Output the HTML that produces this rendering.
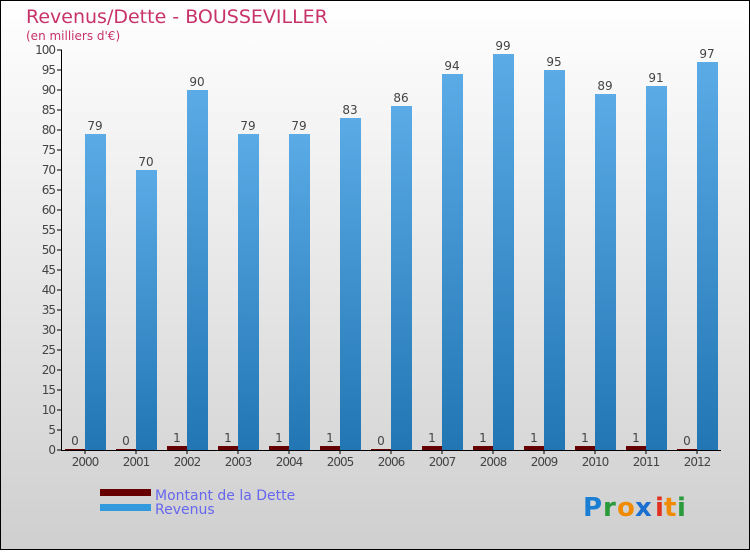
<!DOCTYPE html>
<html><head><meta charset="utf-8"><style>
body{margin:0}
#c{width:750px;height:550px;position:relative;font-family:"DejaVu Sans","Liberation Sans",sans-serif;}
svg text{font-family:"DejaVu Sans","Liberation Sans",sans-serif}
</style></head><body>
<div id="c">
<svg id="s" width="750" height="550" xmlns="http://www.w3.org/2000/svg">
<defs>
<linearGradient id="bg" x1="0" y1="0" x2="0" y2="1"><stop offset="0" stop-color="#ffffff"/><stop offset="1" stop-color="#cfcfcf"/></linearGradient>
<linearGradient id="blue" x1="0" y1="0" x2="0" y2="1"><stop offset="0" stop-color="#5aabe6"/><stop offset="1" stop-color="#2176b3"/></linearGradient>
</defs>
<rect x="0.5" y="0.5" width="749" height="549" fill="url(#bg)" stroke="#000"/>
<text x="26" y="23" font-size="19" fill="#c8336a">Revenus/Dette - BOUSSEVILLER</text>
<text x="26" y="40" font-size="12" fill="#c8336a">(en milliers d'€)</text>
<g id="plot"></g>
<rect x="100" y="489" width="51" height="7" fill="#660000"/>
<text x="155" y="500" font-size="14" fill="#6666ee">Montant de la Dette</text>
<rect x="100" y="504" width="51" height="7" fill="#3399dd"/>
<text x="155" y="514" font-size="14" fill="#6666ee">Revenus</text>
<g font-size="26" font-weight="bold">
<text x="583" y="516" fill="#1a7fd4">P</text><text x="603" y="516" fill="#2a9a3a">r</text><text x="617" y="516" fill="#f08a00">o</text><text x="635" y="516" fill="#1a6fd0">x</text><text x="655" y="516" fill="#e03020">i</text><text x="664" y="516" fill="#f08a00">t</text><text x="677" y="516" fill="#2a9a3a">i</text>
</g>
</svg>
</div>
<script>
const years=["2000","2001","2002","2003","2004","2005","2006","2007","2008","2009","2010","2011","2012"];
const revenus=[79,70,90,79,79,83,86,94,99,95,89,91,97];
const dette=[0,0,1,1,1,1,0,1,1,1,1,1,0];
const yTicks=[0,5,10,15,20,25,30,35,40,45,50,55,60,65,70,75,80,85,90,95,100];
const NS="http://www.w3.org/2000/svg";
const g=document.getElementById('plot');
const y0=450,yMax=100,pxPer=4;
function ys(v){return y0-v*pxPer;}
function xc(i){return 85+i*51;}
function mk(t,a){const e=document.createElementNS(NS,t);for(const k in a)e.setAttribute(k,a[k]);g.appendChild(e);return e;}
yTicks.forEach(v=>{
 const l=mk('line',{x1:57,x2:62,y1:ys(v),y2:ys(v),stroke:'#000'});
 
 
 const t=mk('text',{x:55,y:ys(v)+4,'font-size':12,'text-anchor':'end',fill:'#444','letter-spacing':'-1'});
 t.textContent=v;
 
 
});
years.forEach((yr,i)=>{
 const c=xc(i);
 const hd=Math.max(dette[i]*pxPer,1);
 const r=mk('rect',{x:c-20,y:y0-hd,width:20,height:hd,fill:'#660000'});
 
 
 const td=mk('text',{x:c-10,y:y0-hd-4,'font-size':12,'text-anchor':'middle',fill:'#444'});
 td.textContent=dette[i];
 
 
 const b=mk('rect',{x:c,y:ys(revenus[i]),width:21,height:revenus[i]*pxPer,fill:'url(#blue)'});
 
 
 const tr=mk('text',{x:c+10,y:ys(revenus[i])-4,'font-size':12,'text-anchor':'middle',fill:'#444'});
 tr.textContent=revenus[i];
 
 
 const tk=mk('line',{x1:c,x2:c,y1:y0,y2:y0+4,stroke:'#000'});
 
 
 const tx=mk('text',{x:c,y:466,'font-size':12,'text-anchor':'middle',fill:'#444','letter-spacing':'-1'});
 tx.textContent=yr;
 
 
});
const ya=mk('line',{x1:61.5,x2:61.5,y1:ys(yMax),y2:y0,stroke:'#000'});


const xa=mk('line',{x1:61,x2:721,y1:y0+0.5,y2:y0+0.5,stroke:'#000'});


</script>
</body></html>
